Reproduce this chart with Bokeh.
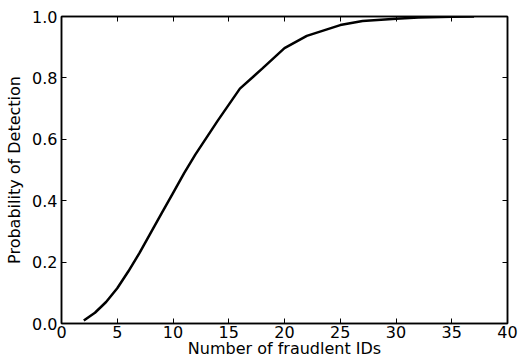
from bokeh.plotting import figure
from bokeh.models import LinearAxis, Range1d, FixedTicker, CustomJSTickFormatter
from bokeh.embed import file_html
from bokeh.resources import INLINE

# Data
n_fraud = [2, 3, 4, 5, 6, 7, 8, 9, 10, 11, 12, 14, 16, 18, 20, 22, 25, 27, 30, 32, 35, 37]
p_detect = [0.01, 0.035, 0.07, 0.115, 0.17, 0.23, 0.295, 0.36, 0.425, 0.49, 0.55,
            0.66, 0.765, 0.83, 0.897, 0.937, 0.972, 0.985, 0.993, 0.997, 0.999, 1.0]
x_ticks = [0, 5, 10, 15, 20, 25, 30, 35, 40]
y_ticks = [0.0, 0.2, 0.4, 0.6, 0.8, 1.0]
y_labels = {0.0: "0.0", 0.2: "0.2", 0.4: "0.4", 0.6: "0.6", 0.8: "0.8", 1.0: "1.0"}

FONT = "DejaVu Sans"

p = figure(width=520, height=361, output_backend="svg", toolbar_location=None,
           x_range=Range1d(0, 40), y_range=Range1d(0, 1),
           min_border_left=61, min_border_right=13, min_border_top=16, min_border_bottom=38)
p.xgrid.visible = False
p.ygrid.visible = False
p.outline_line_color = "black"
p.outline_line_width = 1.5

p.line(n_fraud, p_detect, line_color="black", line_width=2.5)

def style(ax, labels=True):
    ax.major_tick_in = 5
    ax.major_tick_out = 0
    ax.minor_tick_line_color = None
    ax.axis_line_color = "black"
    ax.axis_line_width = 1.5
    ax.major_tick_line_color = "black"
    ax.major_label_text_font = FONT
    ax.major_label_text_font_size = "16px"
    ax.major_label_text_color = "black"
    ax.axis_label_text_font = FONT
    ax.axis_label_text_font_size = "16px"
    ax.axis_label_text_font_style = "normal"
    ax.axis_label_text_color = "black"
    if not labels:
        ax.formatter = CustomJSTickFormatter(code="return ''")
        ax.major_label_standoff = 0

xa = p.xaxis[0]
xa.ticker = FixedTicker(ticks=x_ticks)
xa.axis_label = "Number of fraudlent IDs"
style(xa)
xa.major_label_standoff = 2
xa.axis_label_standoff = -2

ya = p.yaxis[0]
ya.ticker = FixedTicker(ticks=y_ticks)
ya.major_label_overrides = y_labels
ya.axis_label = "Probability of Detection"
style(ya)
ya.major_label_standoff = 4
ya.axis_label_standoff = 5

top = LinearAxis(ticker=FixedTicker(ticks=x_ticks))
style(top, labels=False)
p.add_layout(top, "above")
right = LinearAxis(ticker=FixedTicker(ticks=y_ticks))
style(right, labels=False)
p.add_layout(right, "right")

open("out.html", "w").write(file_html(p, INLINE))
